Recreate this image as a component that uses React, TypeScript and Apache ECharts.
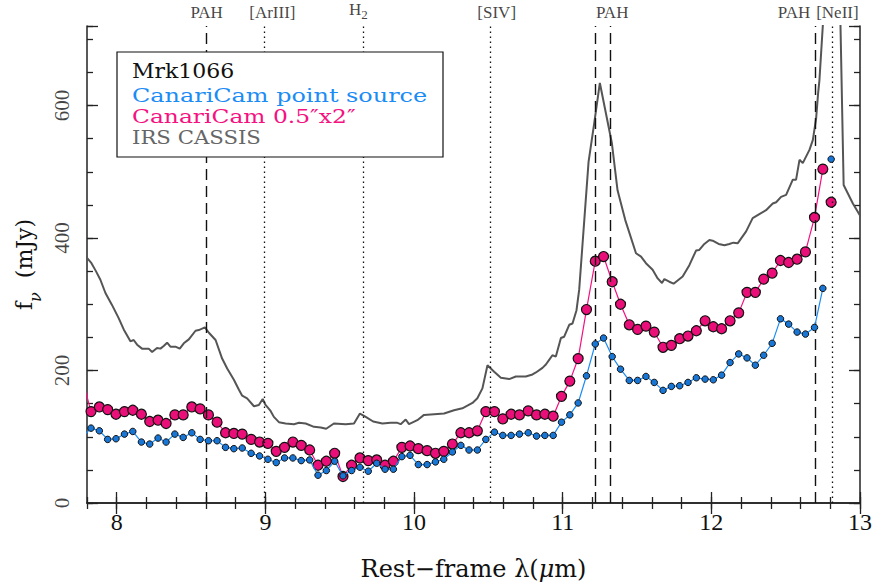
import React, { useEffect, useRef } from "react";
import * as echarts from "echarts";

// CanariCam spectra sampling (rest-frame wavelength, micron)
const lambdaCC = [
  7.771, 7.827, 7.883, 7.939, 7.995, 8.052, 8.108, 8.166, 8.222, 8.278,
  8.332, 8.391, 8.447, 8.505, 8.561, 8.617, 8.675, 8.732, 8.788, 8.844,
  8.904, 8.961, 9.017, 9.073, 9.129, 9.185, 9.241, 9.298, 9.354, 9.41,
  9.466, 9.522, 9.58, 9.636, 9.692, 9.749, 9.805, 9.861, 9.918, 9.973,
  10.029, 10.088, 10.144, 10.2, 10.258, 10.315, 10.37, 10.426, 10.483, 10.541,
  10.597, 10.653, 10.709, 10.768, 10.824, 10.88, 10.936, 10.992, 11.048, 11.104,
  11.16, 11.219, 11.275, 11.333, 11.389, 11.448, 11.504, 11.56, 11.616, 11.675,
  11.731, 11.787, 11.843, 11.899, 11.958, 12.013, 12.069, 12.126, 12.184, 12.24,
  12.296, 12.352, 12.409, 12.465, 12.52, 12.577, 12.633, 12.694, 12.75, 12.806,
];

// CanariCam 0.5"x2" aperture (mJy)
const apertureFlux = [
  185, 138, 145, 141, 134, 138, 140, 134, 123, 125,
  120, 133, 133, 145, 142, 133, 122, 106, 105, 104,
  96, 92, 90, 78, 84, 92, 87, 80, 57, 63,
  75, 40, 57, 68, 64, 65, 57, 63, 84, 86,
  82, 79, 75, 78, 89, 106, 106, 109, 138, 138,
  127, 134, 133, 139, 133, 134, 131, 161, 184, 218,
  292, 365, 372, 334, 300, 269, 262, 267, 258, 235,
  238, 248, 252, 260, 275, 266, 263, 275, 287, 318,
  318, 338, 347, 366, 363, 368, 379, 431, 504, 454,
];

// CanariCam point source (mJy)
const pointFlux = [
  100, 113, 109, 96, 97, 104, 108, 92, 89, 98,
  92, 104, 99, 106, 96, 94, 94, 84, 82, 83,
  75, 71, 66, 61, 68, 68, 64, 65, 42, 49,
  63, 41, 49, 54, 48, 60, 51, 51, 70, 72,
  58, 58, 62, 66, 77, 87, 80, 80, 96, 107,
  102, 102, 104, 106, 101, 102, 102, 122, 133, 151,
  192, 240, 249, 221, 202, 185, 185, 191, 182, 170,
  176, 177, 182, 189, 187, 186, 193, 212, 225, 219,
  208, 223, 241, 278, 270, 258, 255, 265, 324, 519,
];

// IRS CASSIS spectrum
const irsLambda = [
  7.78, 7.8, 7.83, 7.86, 7.89, 7.924, 7.968, 8.013, 8.047, 8.092,
  8.114, 8.137, 8.17, 8.215, 8.238, 8.271, 8.294, 8.316, 8.339, 8.361,
  8.395, 8.424, 8.451, 8.485, 8.53, 8.552, 8.593, 8.62, 8.665, 8.709,
  8.743, 8.788, 8.822, 8.844, 8.877, 8.923, 8.956, 8.982, 9.001, 9.035,
  9.057, 9.091, 9.136, 9.192, 9.226, 9.271, 9.327, 9.372, 9.409, 9.461,
  9.54, 9.596, 9.636, 9.675, 9.725, 9.787, 9.843, 9.888, 9.91, 9.944,
  9.966, 10.022, 10.067, 10.135, 10.202, 10.269, 10.325, 10.393, 10.426, 10.46,
  10.494, 10.539, 10.584, 10.64, 10.685, 10.752, 10.797, 10.82, 10.864, 10.887,
  10.909, 10.931, 10.954, 10.988, 11.01, 11.044, 11.066, 11.093, 11.111, 11.174,
  11.212, 11.25, 11.291, 11.331, 11.369, 11.421, 11.493, 11.527, 11.56, 11.605,
  11.639, 11.668, 11.684, 11.717, 11.746, 11.807, 11.852, 11.897, 11.919, 11.953,
  11.987, 12.009, 12.049, 12.088, 12.121, 12.148, 12.177, 12.234, 12.278, 12.323,
  12.368, 12.413, 12.436, 12.469, 12.503, 12.548, 12.57, 12.593, 12.615, 12.66,
  12.683, 12.705, 12.718, 12.727, 12.84, 12.89, 12.952, 12.997, 13.03,
];
const irsFlux = [
  375, 370, 362, 350, 337, 317, 299, 279, 262, 244,
  246, 239, 233, 233, 228, 234, 233, 237, 242, 236,
  236, 233, 241, 247, 260, 261, 265, 257, 246, 218,
  203, 186, 171, 162, 158, 146, 148, 157, 148, 139,
  130, 122, 120, 119, 121, 120, 115, 114, 112, 120,
  119, 120, 135, 130, 123, 120, 121, 121, 119, 126,
  119, 125, 133, 134, 135, 140, 143, 151, 158, 173,
  208, 198, 189, 187, 191, 191, 194, 197, 204, 209,
  216, 223, 221, 249, 251, 269, 271, 291, 322, 515,
  573, 634, 588, 543, 472, 427, 377, 372, 362, 352,
  339, 332, 338, 334, 331, 342, 359, 381, 382, 391,
  397, 396, 391, 389, 391, 393, 392, 410, 430, 436,
  442, 452, 454, 462, 465, 488, 488, 518, 513, 533,
  548, 581, 618, 638, 1046, 480, 452, 435, 428,
];

// Spectral features
const featureLambda = [8.6, 8.99, 9.66, 10.51, 11.22, 11.325, 12.7, 12.81];
const featureKind = ["dashed", "dotted", "dotted", "dotted", "dashed", "dashed", "dashed", "dotted"];

// Top labels
const labelTexts = ["PAH", "[ArIII]", "H2", "[SIV]", "PAH", "PAH", "[NeII]"];
const labelLambda = [8.605, 9.047, 9.625, 10.556, 11.333, 12.556, 12.848];

const xMajor = [8, 9, 10, 11, 12, 13];
const yMajor = [0, 200, 400, 600];

const BLUE = "#1b8cf5";
const PINK = "#f5117f";
const GRAY = "#555555";
const SERIF = "Liberation Serif";
const WIDE = "DejaVu Serif";

export default function App() {
  const ref = useRef<HTMLDivElement>(null);

  useEffect(() => {
    if (!ref.current) return;
    const chart = echarts.init(ref.current, null, { renderer: "svg" });

    const aperturePts = lambdaCC.map((x, i) => [x, apertureFlux[i]]);
    const pointPts = lambdaCC.map((x, i) => [x, pointFlux[i]]);
    const irsPts = irsLambda.map((x, i) => [x, irsFlux[i]]);
    const labelPts = labelLambda.map((x, i) => [x, 720, labelTexts[i]]);
    const yLabelPts = yMajor.map((v) => [7.8, v]);

    const axisLine = { show: true, lineStyle: { color: "#222", width: 1.5 } };
    const tickStyle = { color: "#222", width: 1.3 };

    const xBase = { type: "value", min: 7.8, max: 13, splitLine: { show: false } };
    const yBase = { type: "value", min: 0, max: 720, splitLine: { show: false } };

    const option: any = {
      animation: false,
      backgroundColor: "#fff",
      grid: { left: 87, right: 26, top: 26, bottom: 83, containLabel: false },
      xAxis: [
        {
          ...xBase,
          position: "bottom",
          axisLine,
          axisTick: { show: true, inside: true, length: 11, customValues: xMajor, lineStyle: tickStyle },
          axisLabel: { customValues: xMajor, fontSize: 24, fontFamily: SERIF, color: "#111", margin: 7 },
          name: "Rest\u2212frame {l|\u03bb}({m|\u03bc}m)",
          nameLocation: "middle",
          nameGap: 54,
          nameTextStyle: {
            fontSize: 24,
            fontFamily: WIDE,
            color: "#111",
            rich: {
              l: { fontSize: 24, fontFamily: WIDE, color: "#111" },
              m: { fontSize: 24, fontFamily: WIDE, fontStyle: "italic", color: "#111" },
            },
          },
        },
        {
          ...xBase,
          interval: 0.2,
          position: "bottom",
          axisLine: { show: false },
          axisTick: { show: true, inside: true, length: 6, lineStyle: tickStyle },
          axisLabel: { show: false },
        },
        {
          ...xBase,
          position: "top",
          axisLine,
          axisTick: { show: true, inside: true, length: 11, customValues: xMajor, lineStyle: tickStyle },
          axisLabel: { show: false },
        },
        {
          ...xBase,
          interval: 0.2,
          position: "top",
          axisLine: { show: false },
          axisTick: { show: true, inside: true, length: 6, lineStyle: tickStyle },
          axisLabel: { show: false },
        },
      ],
      yAxis: [
        {
          ...yBase,
          interval: 200,
          position: "left",
          axisLine,
          axisTick: { show: true, inside: true, length: 11, lineStyle: tickStyle },
          axisLabel: { show: false },
          name: "{f|f}{nu|\u03bd}{u|  (mJy)}",
          nameLocation: "middle",
          nameGap: 44,
          nameTextStyle: {
            fontSize: 22,
            fontFamily: WIDE,
            color: "#111",
            rich: {
              f: { fontSize: 22, fontFamily: WIDE, color: "#111", lineHeight: 30, verticalAlign: "top" },
              nu: { fontSize: 16, fontFamily: WIDE, fontStyle: "italic", color: "#111", lineHeight: 30, verticalAlign: "bottom", padding: [10, 0, 0, 0] },
              u: { fontSize: 22, fontFamily: WIDE, color: "#111", lineHeight: 30, verticalAlign: "top" },
            },
          },
        },
        {
          ...yBase,
          interval: 50,
          position: "left",
          axisLine: { show: false },
          axisTick: { show: true, inside: true, length: 6, lineStyle: tickStyle },
          axisLabel: { show: false },
        },
        {
          ...yBase,
          interval: 200,
          position: "right",
          axisLine,
          axisTick: { show: true, inside: true, length: 11, lineStyle: tickStyle },
          axisLabel: { show: false },
        },
        {
          ...yBase,
          interval: 50,
          position: "right",
          axisLine: { show: false },
          axisTick: { show: true, inside: true, length: 6, lineStyle: tickStyle },
          axisLabel: { show: false },
        },
      ],
      series: [
        {
          name: "IRS CASSIS",
          type: "line",
          data: irsPts,
          showSymbol: false,
          symbol: "none",
          clip: true,
          lineStyle: { color: GRAY, width: 2 },
          z: 2,
          markLine: {
            silent: true,
            symbol: ["none", "none"],
            label: { show: false },
            animation: false,
            data: featureLambda.map((x, i) => ({
              xAxis: x,
              lineStyle: {
                color: "#111",
                width: featureKind[i] === "dashed" ? 1.4 : 1.3,
                type: featureKind[i] === "dashed" ? [11, 6] : [1.4, 3.6],
              },
            })),
          },
        },
        {
          name: "CanariCam 0.5x2",
          type: "line",
          data: aperturePts.slice(0, -1),
          clip: true,
          symbol: "circle",
          symbolSize: 10,
          showAllSymbol: true,
          lineStyle: { color: PINK, width: 1.2 },
          itemStyle: { color: "#ea0f78", borderColor: "#111", borderWidth: 1.2 },
          z: 4,
        },
        {
          name: "CanariCam 0.5x2 last",
          type: "scatter",
          data: aperturePts.slice(-1),
          symbol: "circle",
          symbolSize: 10,
          itemStyle: { color: "#ea0f78", borderColor: "#111", borderWidth: 1.2, opacity: 1 },
          z: 4,
        },
        {
          name: "CanariCam point source",
          type: "line",
          data: pointPts.slice(0, -1),
          clip: true,
          symbol: "circle",
          symbolSize: 6.5,
          showAllSymbol: true,
          lineStyle: { color: BLUE, width: 1.2 },
          itemStyle: { color: "#1877d6", borderColor: "#111", borderWidth: 1 },
          z: 5,
        },
        {
          name: "CanariCam point source last",
          type: "scatter",
          data: pointPts.slice(-1),
          symbol: "circle",
          symbolSize: 6.5,
          itemStyle: { color: "#1877d6", borderColor: "#111", borderWidth: 1, opacity: 1 },
          z: 5,
        },
        {
          name: "feature labels",
          type: "scatter",
          data: labelPts,
          clip: false,
          symbolSize: 1,
          itemStyle: { color: "rgba(0,0,0,0)" },
          silent: true,
          label: {
            show: true,
            position: "top",
            distance: 5,
            color: "#111",
            fontSize: 17,
            fontFamily: SERIF,
            formatter: (p: any) => (p.data[2] === "H2" ? "{h|H}{s|2}" : p.data[2]),
            rich: {
              h: { fontSize: 17, fontFamily: SERIF, color: "#111", verticalAlign: "top", lineHeight: 20 },
              s: { fontSize: 13, fontFamily: SERIF, color: "#111", verticalAlign: "bottom", lineHeight: 20, padding: [8, 0, 0, 0] },
            },
          },
          z: 6,
        },
        {
          name: "y tick labels",
          type: "scatter",
          data: yLabelPts,
          clip: false,
          symbolSize: 1,
          itemStyle: { color: "rgba(0,0,0,0)" },
          silent: true,
          label: {
            show: true,
            position: "left",
            distance: 25,
            rotate: 90,
            align: "center",
            verticalAlign: "middle",
            color: "#111",
            fontSize: 21,
            fontFamily: SERIF,
            formatter: (p: any) => String(p.data[1]),
          },
          z: 6,
        },
      ],
      graphic: [
        {
          type: "rect",
          z: 100,
          shape: { x: 117, y: 52, width: 326, height: 105 },
          style: { fill: "#fff", stroke: "#111", lineWidth: 1.2 },
        },
        {
          type: "text",
          z: 101,
          x: 132,
          y: 71,
          scaleX: 1.1,
          style: { text: "Mrk1066", fill: "#111", font: `20px "${WIDE}"`, textVerticalAlign: "middle" },
        },
        {
          type: "text",
          z: 101,
          x: 132,
          y: 96,
          scaleX: 1.33,
          style: { text: "CanariCam point source", fill: BLUE, font: `18px "${WIDE}"`, textVerticalAlign: "middle" },
        },
        {
          type: "text",
          z: 101,
          x: 132,
          y: 117,
          scaleX: 1.3,
          style: { text: "CanariCam 0.5\u2033x2\u2033", fill: PINK, font: `18px "${WIDE}"`, textVerticalAlign: "middle" },
        },
        {
          type: "text",
          z: 101,
          x: 132,
          y: 138,
          scaleX: 1.18,
          style: { text: "IRS CASSIS", fill: "#666", font: `18px "${WIDE}"`, textVerticalAlign: "middle" },
        },
      ],
    };

    chart.setOption(option);
    return () => chart.dispose();
  }, []);

  return (
    <div
      ref={ref}
      style={{ position: "fixed", left: 0, top: 0, width: 886, height: 586, background: "#fff" }}
    />
  );
}
